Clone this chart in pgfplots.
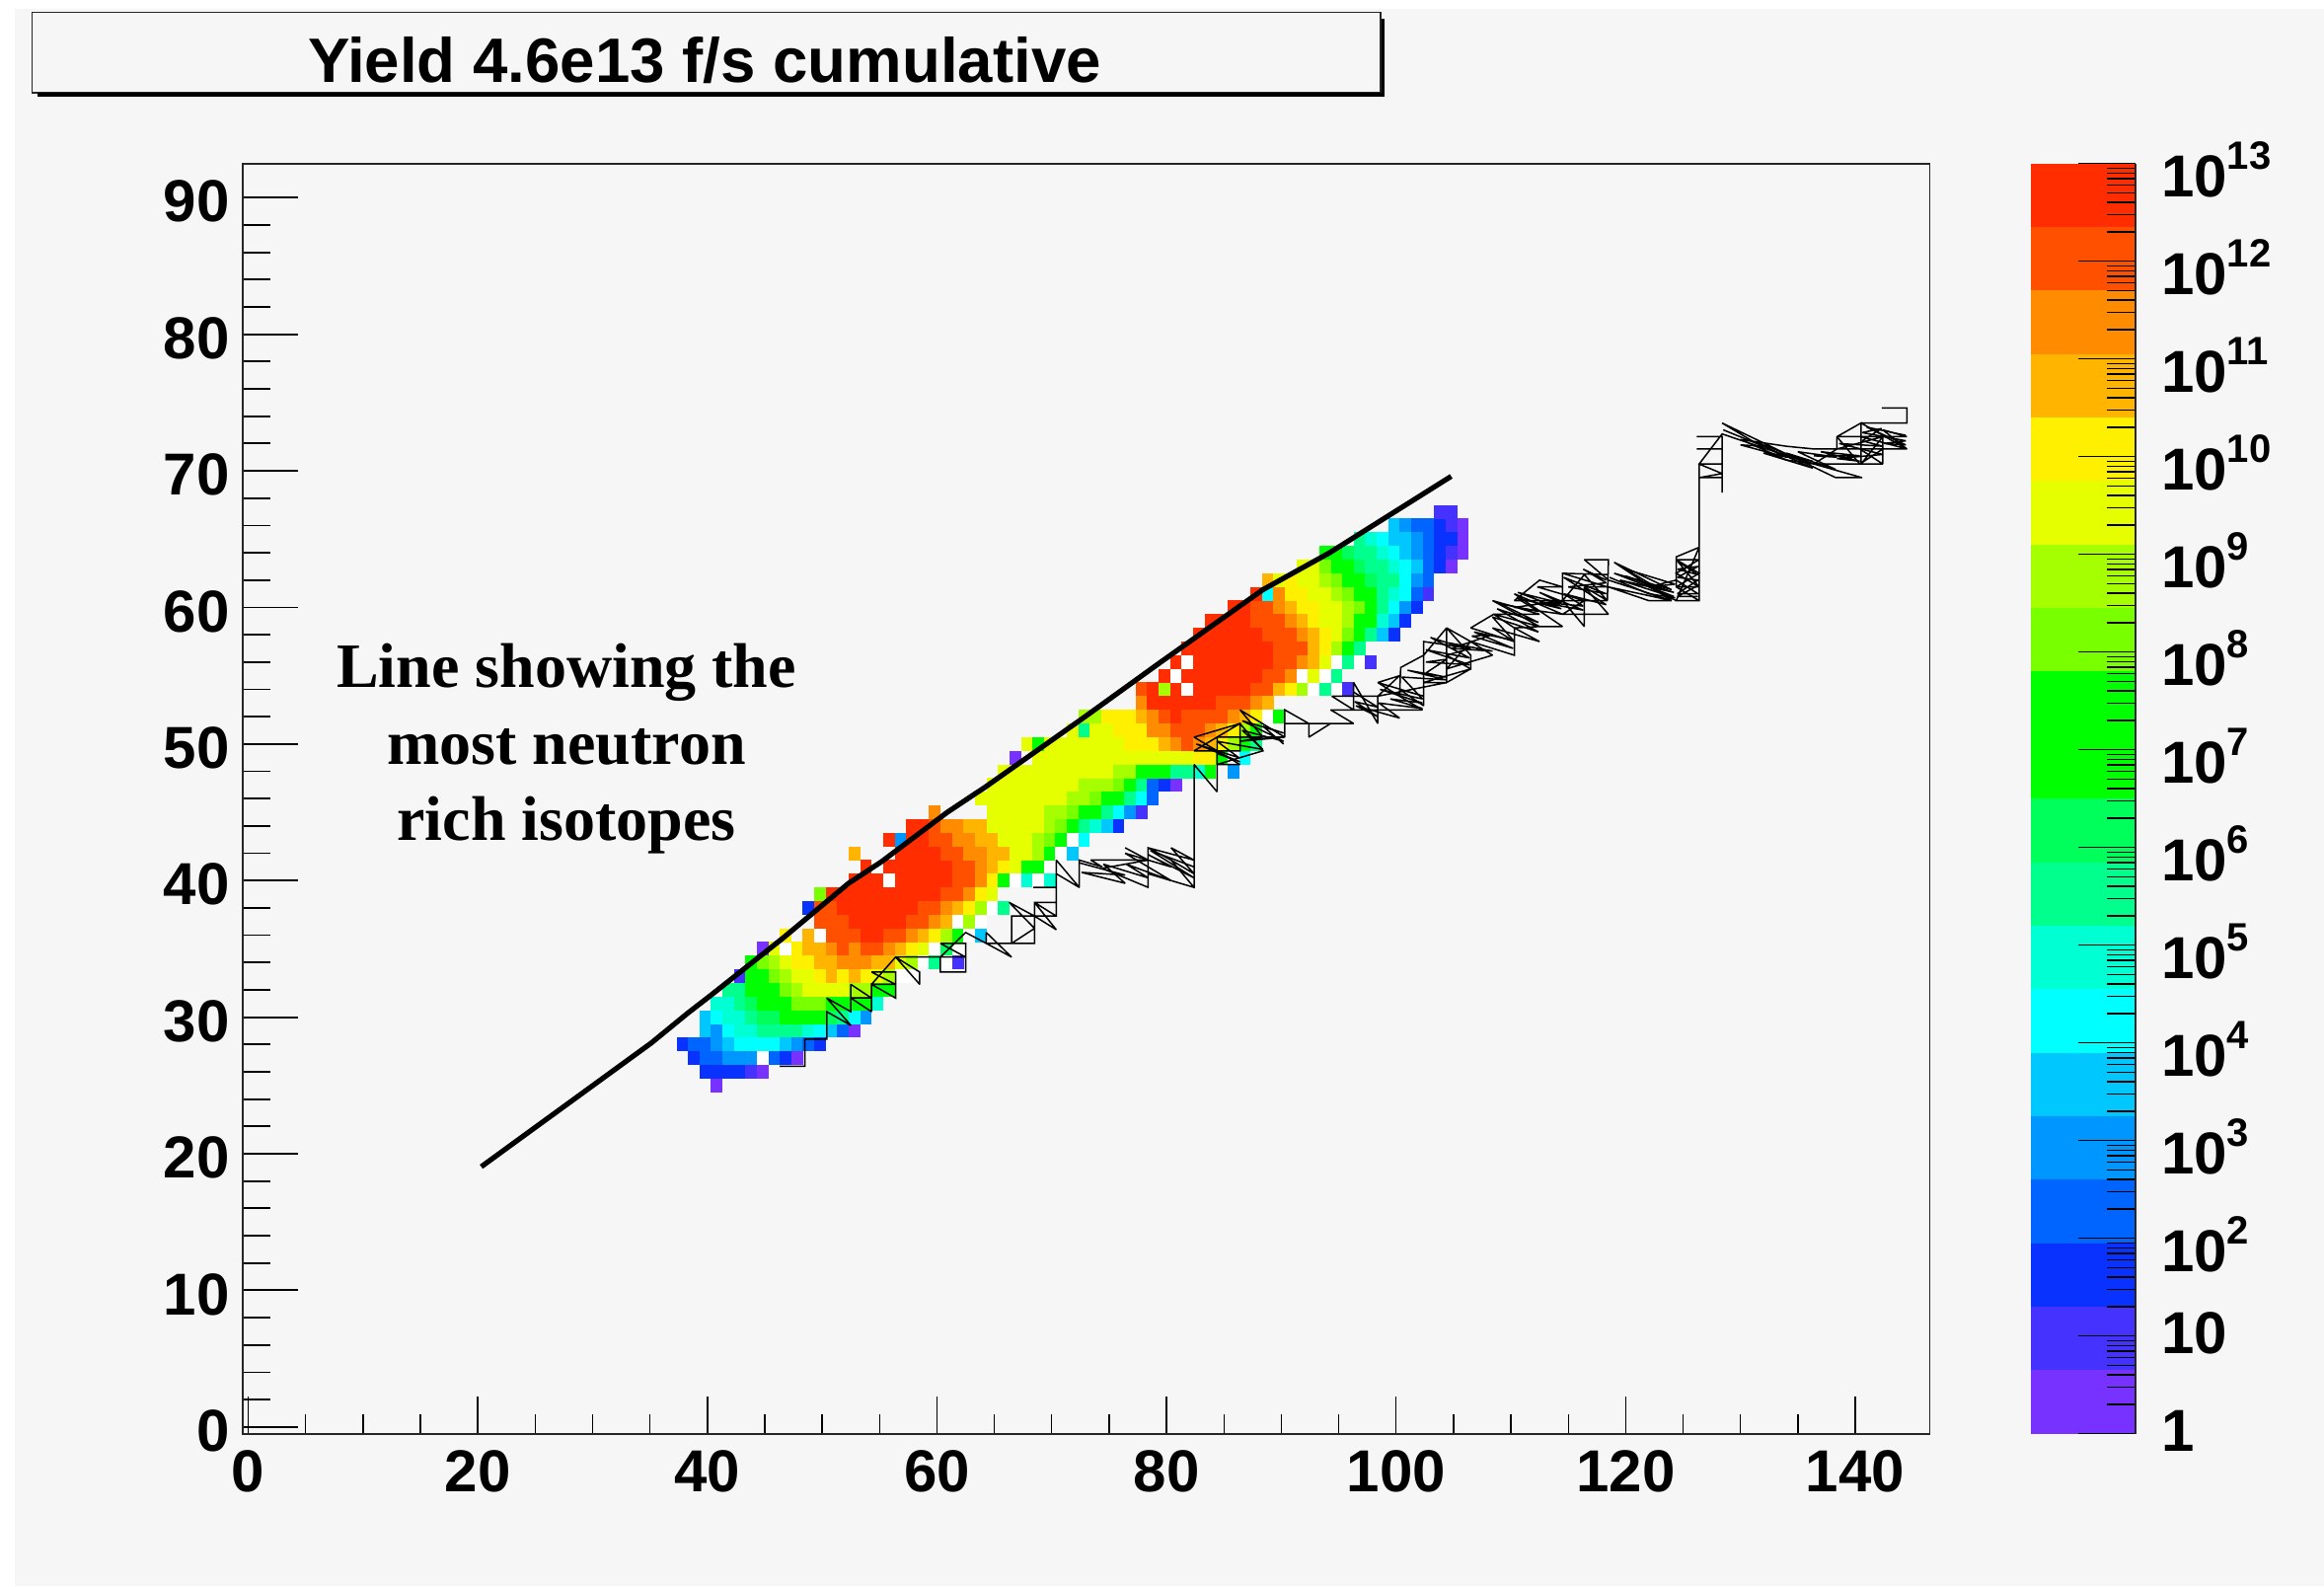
\documentclass[border=0pt]{standalone}
\usepackage{fontspec}
\setmainfont{Liberation Sans}
\newfontfamily\serifbold{Liberation Serif}
\usepackage{pgfplots}
\pgfplotsset{compat=1.18}
\definecolor{bgc}{HTML}{F6F6F6}
\definecolor{b1}{HTML}{7832FF}
\definecolor{b2}{HTML}{4632FF}
\definecolor{b3}{HTML}{0A32FF}
\definecolor{b4}{HTML}{0064FF}
\definecolor{b5}{HTML}{0096FF}
\definecolor{b6}{HTML}{00C8FF}
\definecolor{b7}{HTML}{00FFFF}
\definecolor{b8}{HTML}{00FFD2}
\definecolor{b9}{HTML}{00FF8C}
\definecolor{b10}{HTML}{00FF5A}
\definecolor{b11}{HTML}{00FF00}
\definecolor{b12}{HTML}{00FF00}
\definecolor{b13}{HTML}{78FF00}
\definecolor{b14}{HTML}{A5FF00}
\definecolor{b15}{HTML}{E6FF00}
\definecolor{b16}{HTML}{FFF000}
\definecolor{b17}{HTML}{FFB400}
\definecolor{b18}{HTML}{FF8C00}
\definecolor{b19}{HTML}{FF5000}
\definecolor{b20}{HTML}{FF2D00}
% one histogram bin: 1 px = 0.5pt, bins are 11.63 x 13.84 px
\pgfdeclareplotmark{cell}{%
  \pgfpathrectangle{\pgfpoint{-4.0pt}{-3.5pt}}{\pgfpoint{5.9pt}{7pt}}%
  \pgfusepathqfill}
\newcommand{\band}[3]{\addplot[fill=#1,draw=none] coordinates {(0,#2) (1,#2) (1,#3) (0,#3)} --cycle;}
\newcommand{\lab}{\fontsize{30}{30}\selectfont\bfseries}
\newcommand{\ee}[1]{10\raisebox{14pt}{\fontsize{20}{20}\selectfont #1}}
\begin{document}
\begin{tikzpicture}[x=1pt,y=1pt]
  \path[use as bounding box] (0,0) rectangle (1177.5,803.5);
  \fill[bgc] (7.5,0) rectangle (1177.5,799);
  % title box with its shadow
  \draw[black!85,line width=0.8pt] (16.3,756.5) rectangle (699.5,797.3);
  \draw[black,line width=1.7pt] (700.8,794) -- (700.8,755.4) -- (19,755.4);
  \node[anchor=base,font=\fontsize{31.8}{32}\selectfont\bfseries] at (357,761.8) {Yield 4.6e13 f/s cumulative};

  % main frame with the y ticks and the bins
  \begin{axis}[
      at={(122.85pt,77.15pt)},anchor=south west,
      scale only axis,width=854.95pt,height=643.5pt,
      xmin=-0.5,xmax=146.5,ymin=-0.5,ymax=92.5,
      clip mode=individual,
      xtick=\empty,
      ytick={0,10,...,90},minor y tick num=4,
      tick align=inside,ytick pos=left,
      major tick length=28pt,minor tick length=14pt,
      every tick/.style={black,line width=0.9pt},
      axis line style={black!85,line width=0.8pt},
      /pgf/number format/assume math mode=true,
      yticklabel style={font=\lab,xshift=-3pt,yshift=-2pt},
    ]
    \addplot[scatter,only marks,mark=cell,scatter src=explicit symbolic,
      scatter/classes={
        w={mark=cell,color=white},
        b1={mark=cell,color=b1},b2={mark=cell,color=b2},b3={mark=cell,color=b3},b4={mark=cell,color=b4},
        b5={mark=cell,color=b5},b6={mark=cell,color=b6},b7={mark=cell,color=b7},b8={mark=cell,color=b8},
        b9={mark=cell,color=b9},b10={mark=cell,color=b10},b11={mark=cell,color=b11},b13={mark=cell,color=b13},
        b14={mark=cell,color=b14},b15={mark=cell,color=b15},b16={mark=cell,color=b16},b17={mark=cell,color=b17},
        b18={mark=cell,color=b18},b19={mark=cell,color=b19},b20={mark=cell,color=b20}}]
    coordinates {
      (41,25)[b1]
      (40,26)[b3](41,26)[b3](42,26)[b3](43,26)[b3](44,26)[b2](45,26)[b1]
      (39,27)[b3](40,27)[b4](41,27)[b4](42,27)[b5](43,27)[b5](44,27)[b5](45,27)[w](46,27)[b4](47,27)[b3](48,27)[b1]
      (38,28)[b3](39,28)[b4](40,28)[b4](41,28)[b5](42,28)[b6](43,28)[b7](44,28)[b7](45,28)[b7](46,28)[b7](47,28)[b6](48,28)[b5](49,28)[b4](50,28)[b3]
      (40,29)[b6](41,29)[b5](42,29)[b7](43,29)[b8](44,29)[b8](45,29)[b9](46,29)[b9](47,29)[b9](48,29)[b9](49,29)[b8](50,29)[b7](51,29)[b6](52,29)[b4](53,29)[b1]
      (40,30)[b6](41,30)[b7](42,30)[b8](43,30)[b8](44,30)[b9](45,30)[b10](46,30)[b10](47,30)[b11](48,30)[b11](49,30)[b11](50,30)[b11](51,30)[b10](52,30)[b9](53,30)[b7](54,30)[b5]
      (41,31)[b8](42,31)[b8](43,31)[b9](44,31)[b10](45,31)[b11](46,31)[b11](47,31)[b11](48,31)[b13](49,31)[b13](50,31)[b13](51,31)[b11](52,31)[b11](53,31)[b11](54,31)[b11](55,31)[b8]
      (42,32)[b9](43,32)[b9](44,32)[b11](45,32)[b11](46,32)[b11](47,32)[b13](48,32)[b14](49,32)[b15](50,32)[b15](51,32)[b15](52,32)[b15](53,32)[b14](54,32)[b14](55,32)[b11](56,32)[b11]
      (43,33)[b2](44,33)[b11](45,33)[b11](46,33)[b13](47,33)[b14](48,33)[b15](49,33)[b15](50,33)[b16](51,33)[b17](52,33)[b16](53,33)[b17](54,33)[b16](55,33)[b15](56,33)[b14](57,33)[w](58,33)[w]
      (44,34)[b11](45,34)[b13](46,34)[b14](47,34)[b15](48,34)[b16](49,34)[b16](50,34)[b17](51,34)[b17](52,34)[b18](53,34)[b18](54,34)[b18](55,34)[b17](56,34)[b17](57,34)[b15](58,34)[b14](59,34)[w](60,34)[b9](61,34)[w](62,34)[b2]
      (45,35)[b1](46,35)[b15](47,35)[w](48,35)[b16](49,35)[b17](50,35)[b17](51,35)[b18](52,35)[b19](53,35)[b18](54,35)[b19](55,35)[b19](56,35)[b18](57,35)[b17](58,35)[b16](59,35)[b15](60,35)[w](61,35)[b10](62,35)[w]
      (47,36)[b16](49,36)[b17](50,36)[w](51,36)[b19](52,36)[b19](53,36)[b19](54,36)[b20](55,36)[b20](56,36)[b19](57,36)[b19](58,36)[b18](59,36)[b17](60,36)[b16](61,36)[b14](62,36)[b11](63,36)[w](64,36)[b6]
      (50,37)[b19](51,37)[b19](52,37)[b19](53,37)[b20](54,37)[b20](55,37)[b20](56,37)[b20](57,37)[b20](58,37)[b19](59,37)[b19](60,37)[b18](61,37)[b17](62,37)[w](63,37)[b14](64,37)[w]
      (49,38)[b3](50,38)[b19](51,38)[b19](52,38)[b20](53,38)[b20](54,38)[b20](55,38)[b20](56,38)[b20](57,38)[b20](58,38)[b20](59,38)[b19](60,38)[b19](61,38)[b18](62,38)[b17](63,38)[b16](64,38)[b14](65,38)[w](66,38)[b9]
      (50,39)[b13](51,39)[b20](52,39)[b20](53,39)[b20](54,39)[b20](55,39)[b20](56,39)[b20](57,39)[b20](58,39)[b20](59,39)[b20](60,39)[b20](61,39)[b19](62,39)[b19](63,39)[b18](64,39)[b16](65,39)[b15]
      (53,40)[b20](54,40)[b20](55,40)[b20](56,40)[w](57,40)[b20](58,40)[b20](59,40)[b20](60,40)[b20](61,40)[b20](62,40)[b19](63,40)[b19](64,40)[b18](65,40)[b16](66,40)[b11](67,40)[w](68,40)[b8](69,40)[w](70,40)[b8]
      (54,41)[b20](55,41)[w](56,41)[b20](57,41)[b20](58,41)[b20](59,41)[b20](60,41)[b20](61,41)[b20](62,41)[b19](63,41)[b19](64,41)[b18](65,41)[b17](66,41)[b16](67,41)[b15](68,41)[b11](69,41)[b11](70,41)[w]
      (53,42)[b17](57,42)[b20](58,42)[b20](59,42)[b20](60,42)[b20](61,42)[b19](62,42)[b19](63,42)[b18](64,42)[b18](65,42)[b17](66,42)[b17](67,42)[b15](68,42)[b15](69,42)[b14](70,42)[b11](71,42)[w](72,42)[b6]
      (56,43)[b20](57,43)[b5](58,43)[b20](59,43)[b20](60,43)[b19](61,43)[b19](62,43)[b18](63,43)[b18](64,43)[b17](65,43)[b17](66,43)[b15](67,43)[b15](68,43)[b15](69,43)[b14](70,43)[b13](71,43)[b11](72,43)[w](73,43)[b7]
      (58,44)[b20](59,44)[b20](60,44)[b19](61,44)[b18](62,44)[b18](63,44)[b17](64,44)[b17](65,44)[b15](66,44)[b15](67,44)[b15](68,44)[b15](69,44)[b15](70,44)[b14](71,44)[b13](72,44)[b11](73,44)[b9](74,44)[b8](75,44)[b6](76,44)[b3]
      (60,45)[b18](65,45)[b15](66,45)[b15](67,45)[b15](68,45)[b15](69,45)[b15](70,45)[b14](71,45)[b14](72,45)[b13](73,45)[b11](74,45)[b11](75,45)[b9](76,45)[b7](77,45)[b5](78,45)[b2]
      (64,46)[b15](65,46)[b15](66,46)[b15](67,46)[b15](68,46)[b15](69,46)[b15](70,46)[b15](71,46)[b15](72,46)[b14](73,46)[b14](74,46)[b13](75,46)[b11](76,46)[b11](77,46)[b9](78,46)[b7](79,46)[b4]
      (65,47)[b15](66,47)[b15](67,47)[b15](68,47)[b15](69,47)[b15](70,47)[b15](71,47)[b15](72,47)[b15](73,47)[b14](74,47)[b14](75,47)[b14](76,47)[b13](77,47)[b11](78,47)[b9](79,47)[b4](80,47)[b3](81,47)[b1]
      (66,48)[b15](67,48)[b15](68,48)[b15](69,48)[b15](70,48)[b15](71,48)[b15](72,48)[b15](73,48)[b15](74,48)[b15](75,48)[b15](76,48)[b14](77,48)[b14](78,48)[b11](79,48)[b11](80,48)[b11](81,48)[b9](82,48)[b9](83,48)[b8](84,48)[b11](86,48)[b5]
      (67,49)[b1](69,49)[b15](70,49)[b15](71,49)[b15](72,49)[b15](73,49)[b15](74,49)[b15](75,49)[b15](76,49)[b15](77,49)[b15](78,49)[b15](79,49)[b15](80,49)[b15](81,49)[b15](82,49)[b15](83,49)[b16](84,49)[b16](85,49)[b11](86,49)[w](87,49)[b7]
      (68,50)[b15](69,50)[b11](70,50)[b15](71,50)[b15](72,50)[b15](73,50)[b15](74,50)[b15](75,50)[b15](76,50)[b15](77,50)[b16](78,50)[b16](79,50)[b16](80,50)[b17](81,50)[b18](82,50)[b19](83,50)[b18](84,50)[b17](85,50)[b16](86,50)[b14](87,50)[b11](88,50)[b9]
      (72,51)[b15](73,51)[b9](74,51)[b15](75,51)[b15](76,51)[b16](77,51)[b16](78,51)[b16](79,51)[b18](80,51)[b18](81,51)[b19](82,51)[b19](83,51)[b19](84,51)[b18](85,51)[b17](86,51)[b16](87,51)[b14](88,51)[b11](89,51)[w]
      (73,52)[b14](74,52)[b14](75,52)[b16](76,52)[b16](77,52)[b16](78,52)[b17](79,52)[b18](80,52)[b19](81,52)[b20](82,52)[b19](83,52)[b19](84,52)[b19](85,52)[b19](86,52)[b18](87,52)[b17](88,52)[b16](89,52)[w](90,52)[b11]
      (78,53)[b18](79,53)[b20](80,53)[b20](81,53)[b20](82,53)[b20](83,53)[b20](84,53)[b20](85,53)[b19](86,53)[b19](87,53)[b19](88,53)[b18](89,53)[b17]
      (78,54)[b19](79,54)[b20](80,54)[b14](81,54)[b20](82,54)[w](83,54)[b20](84,54)[b20](85,54)[b20](86,54)[b20](87,54)[b20](88,54)[b19](89,54)[b19](90,54)[b17](91,54)[b16](92,54)[b14](93,54)[w](94,54)[b9](95,54)[w](96,54)[b2]
      (80,55)[b20](81,55)[w](82,55)[b20](83,55)[b20](84,55)[b20](85,55)[b20](86,55)[b20](87,55)[b20](88,55)[b20](89,55)[b19](90,55)[b19](91,55)[b18](92,55)[w](93,55)[b15](94,55)[w](95,55)[b9]
      (81,56)[b20](82,56)[w](83,56)[b20](84,56)[b20](85,56)[b20](86,56)[b20](87,56)[b20](88,56)[b20](89,56)[b20](90,56)[b19](91,56)[b19](92,56)[b18](93,56)[b17](94,56)[b15](95,56)[w](96,56)[b9](97,56)[w](98,56)[b2]
      (82,57)[b20](83,57)[b20](84,57)[b20](85,57)[b20](86,57)[b20](87,57)[b20](88,57)[b20](89,57)[b20](90,57)[b19](91,57)[b19](92,57)[b19](93,57)[b17](94,57)[b16](95,57)[b14](96,57)[b11](97,57)[b9]
      (83,58)[b20](84,58)[b20](85,58)[b20](86,58)[b20](87,58)[b20](88,58)[b20](89,58)[b19](90,58)[b19](91,58)[b19](92,58)[b18](93,58)[b17](94,58)[b16](95,58)[b15](96,58)[b13](97,58)[b11](98,58)[b9](99,58)[b6](100,58)[b3]
      (84,59)[b20](85,59)[b20](86,59)[b20](87,59)[b20](88,59)[b19](89,59)[b19](90,59)[b19](91,59)[b18](92,59)[b17](93,59)[b16](94,59)[b15](95,59)[b15](96,59)[b14](97,59)[b11](98,59)[b11](99,59)[b8](100,59)[b6](101,59)[b3]
      (86,60)[b20](87,60)[b20](88,60)[b19](89,60)[b19](90,60)[b18](91,60)[b17](92,60)[b16](93,60)[b16](94,60)[b15](95,60)[b15](96,60)[b14](97,60)[b13](98,60)[b11](99,60)[b9](100,60)[b7](101,60)[b5](102,60)[b3]
      (88,61)[b20](89,61)[b7](90,61)[b18](91,61)[b16](92,61)[b16](93,61)[b15](94,61)[b15](95,61)[b14](96,61)[b13](97,61)[b11](98,61)[b11](99,61)[b9](100,61)[b8](101,61)[b7](102,61)[b4](103,61)[b2]
      (89,62)[b17](90,62)[b15](91,62)[b16](92,62)[b15](93,62)[b15](94,62)[b14](95,62)[b13](96,62)[b11](97,62)[b11](98,62)[b10](99,62)[b9](100,62)[b9](101,62)[b7](102,62)[b5](103,62)[b4]
      (92,63)[b15](93,63)[b15](94,63)[b13](95,63)[b11](96,63)[b11](97,63)[b10](98,63)[b9](99,63)[b9](100,63)[b8](101,63)[b7](102,63)[b6](103,63)[b4](104,63)[b3](105,63)[b1]
      (94,64)[b11](95,64)[b11](96,64)[b10](97,64)[b9](98,64)[b9](99,64)[b8](100,64)[b7](101,64)[b6](102,64)[b5](103,64)[b4](104,64)[b3](105,64)[b2](106,64)[b1]
      (97,65)[b9](98,65)[b8](99,65)[b7](100,65)[b6](101,65)[b6](102,65)[b5](103,65)[b4](104,65)[b3](105,65)[b3](106,65)[b1]
      (100,66)[b6](101,66)[b5](102,66)[b4](103,66)[b4](104,66)[b3](105,66)[b2](106,66)[b1]
      (104,67)[b2](105,67)[b2]
    };
    % the zigzag of known isotopes
    \addplot[black,line width=0.75pt,sharp plot,miter limit=2] coordinates {
      (46.3,26.4)(48.5,26.4)(48.5,28.4)(50.4,28.4)(50.4,30.4)(52.5,29.4)(50.4,31.4)(52.5,30.4)(52.5,31.4)(54.3,30.4)(54.3,31.4)(52.5,31.4)
      (52.5,32.4)(54.3,31.4)(54.3,32.4)(56.4,31.4)(56.4,33.3)(54.3,33.3)(56.4,32.4)(54.3,32.4)(56.4,34.4)(58.5,32.4)(58.5,33.3)(56.4,34.4)
      (58.5,34.4)(60.3,34.4)(60.3,33.3)(62.5,33.3)(62.5,35.4)(60.3,35.4)(62.5,34.4)(60.3,34.4)(62.5,36.2)(64.3,35.4)(66.5,34.4)(64.3,36.2)
      (64.3,35.4)(68.5,35.4)(68.5,36.5)(66.3,38.4)(68.5,37.4)(66.5,37.4)(66.5,35.4)(68.5,36.5)(68.5,38.4)(70.4,38.4)(70.4,37.4)(68.5,38.4)
      (70.4,36.4)(68.5,37.4)(70.4,37.4)(70.4,39.5)(68.4,39.5)(70.4,39.5)(70.4,41.5)(72.4,39.5)(70.4,40.5)(72.4,39.5)(72.4,41.5)
      (74.4,41)(73.4,41.5)(78.4,41.5)(76.4,42.4)(78.4,41.5)(74.4,40.9)(78.4,39.5)(78.4,42.4)(80.4,41.5)(78.4,42.4)(82.4,41.5)(80.4,42.4)
      (82.4,40.5)(80.4,41.5)(82.4,39.5)(78.4,40.5)(82.4,39.5)(82.4,48.5)(84.4,46.5)(84.4,50.5)(82.4,49.5)(86.4,49.5)(86.4,51.5)(82.4,50.5)
      (86.4,48.5)(84.4,48.5)(88.4,49.5)(86.4,51.5)(84.4,50.5)(88.4,50.5)(86.4,50.2)(90.3,50.5)(88.4,50.5)(86.4,52.5)(90.3,50.5)(90.3,52.5)
      (92.4,51.5)(92.4,50.5)(94.3,51.5)(90.3,51.5)(96.3,51.5)(94.3,52.5)(96.3,52.5)(96.3,54.5)(98.4,51.5)(98.4,53.5)(94.4,53.5)(96.3,52.5)
      (102.3,52.5)(100.3,53.5)(98.4,54.5)(102.4,53.5)(100.3,54)(102.4,52.8)(102.4,56.5)(100.4,55.6)(100.3,53.5)(98.4,54.5)(100.3,55)(98.4,53.5)
      (104.4,54.5)(102.4,54.5)(106.5,55.5)(104.4,54.5)(104.4,58.5)(102.4,56.5)(102.4,57.5)(106.5,57)(104.4,56.5)(106.5,55.5)(106.5,56.5)
      (104.4,58.5)(106.5,57.5)(104.4,55.5)(108.4,56.5)(106.5,57.5)(110.3,56.5)(110.3,58.5)(108.5,59.5)(106.5,58.5)(110.3,57.5)(108.4,58.5)
      (112.5,57.5)(110.3,58.5)(112.5,58.6)(108.4,60.5)(112.5,59.5)(108.5,59.5)(112.5,58.6)(114.5,58.6)(110.3,61)(114.5,59.5)(110.3,60)
      (114.5,60.5)(110.3,60.5)(112.5,62)(114.5,61.5)(112.3,61.5)(116.4,60.5)(114.5,59.5)(118.5,59.5)(116.4,61.5)(116.4,58.6)(114.5,60.5)
      (118.4,60.5)(116.4,61.5)(118.4,61.5)(114.5,62.5)(118.4,62.4)(114.5,62.5)(114.5,60.5)(116.4,62.4)(118.4,60.5)(118.5,63.5)(116.4,63.5)
      (118.5,62)(124,60.5)(122,60.5)(118.5,61.5)(124,60.5)(119,63.3)(124,61.3)(119,62.5)(124.2,60.8)(122,61.5)(124.4,60.5)(126.4,60.5)
      (124.4,61.5)(126.4,61.5)(124.4,62.5)(126.4,63.5)(124.4,63.5)(126.4,62.5)(124.4,61.5)(124.4,63.7)(126.4,64.4)(124.4,60.5)
      (126.4,60.5)(126.4,70.5)(128.4,70.5)(128.4,68.4)(128.4,72.5)(126.2,72.5)(128.4,72.5)(128.4,71.6)(126.2,71.6)(128.4,71.6)(128.4,69.5)
      (126.4,69.5)(128.4,69.8)(126.4,70.5)(128.4,72.7)(133,71.4)(136.4,70.5)(131,72.2)(128.4,73.5)(138.3,69.5)(140.6,69.5)(136.4,70.5)
      (134,70.8)(130,72.3)(134,71.8)(136.4,71.6)(138.4,71.6)(136.4,70.5)(142.4,70.5)(140.4,71.6)(136.4,71.6)(142.4,71.6)(140.4,70.5)(138.4,72.5)
      (138.4,71.6)(142.4,72.5)(138.4,72.5)(140.5,73.5)(140.5,70.5)(142.4,72.5)(142.4,70.5)(142.4,71.6)(144.5,71.6)(142.4,73)(144.5,72.5)
      (140.5,72.5)(144.5,71.6)(140.5,73.5)(144.5,73.5)(144.5,74.6)(142.3,74.6)
    };
    % denser hatching where the zigzag folds over itself
    \addplot[black,line width=0.75pt,sharp plot,miter limit=2] coordinates {
      (72.4,41.3)(76.4,40.4)(72.6,40.6)(76.4,39.8)(74.5,41.2)(78.4,40.2)(76.5,41.2)(80.4,40)(76.4,42)(80.4,41)(78.4,41.9)(82.4,40.2)(78.6,42.2)(82.4,41)
    };
    \addplot[black,line width=0.75pt,sharp plot,miter limit=2] coordinates {
      (84.4,49.3)(86.4,48.7)(82.6,50)(86.3,49)(84.4,50.2)(88.4,49.6)(86.6,51)(90.2,50.2)(86.6,51.7)(90.2,50.8)(88.4,51.3)(90.2,50)
    };
    \addplot[black,line width=0.75pt,sharp plot,miter limit=2] coordinates {
      (96.3,53.8)(98.4,52.7)(96.4,53.1)(98.4,52)(96.5,52.8)(100.3,51.9)(98.5,53)(102.3,52.6)(99.5,53.3)(102.3,53)(98.6,54)(102.3,53.3)
      (100.5,54.9)(104.3,54.7)(101,55.4)(104.3,54.9)(102.6,55.2)(104.4,56.2)(102.6,56)(106.4,55.8)(102.6,56.9)(106.4,56.3)(103,57.8)(106.4,56.9)
      (104.6,57.4)(108.4,56.8)(104.8,57)(108.4,58)(106.6,57.9)(110.2,57)(106.8,58.2)(110.2,57.6)(108.4,59.3)(112.4,58.2)(108.8,59.9)(112.4,58.9)(109,60.3)(112.4,59.7)
      (110.5,60.7)(114.4,59.9)(110.6,61.1)(114.4,60.3)(112.5,61.1)(116.3,59.8)(112.5,60.4)(116.3,60.1)(114.6,61)(118.3,60.2)(114.6,62.2)(118.3,61)(115,61.5)(118.3,61.8)(116.3,62.8)(118.3,62)
    };
    \addplot[black,line width=0.75pt,sharp plot,miter limit=2] coordinates {
      (118.6,62.2)(122,61)(124.3,60.7)(119.5,62)(124.2,61.1)(120,62.3)(123,61.3)(120,62.8)(124.3,61.7)(122,61.5)(124.4,62)
      (126.3,61)(124.5,61)(126.3,62)(124.5,62.2)(126.3,63)(124.5,62.8)(126.3,62.4)(124.5,63.4)(126.3,61.6)(124.5,60.8)(126.3,60.8)
    };
    \addplot[black,line width=0.75pt,sharp plot,miter limit=2] coordinates {
      (128.5,73)(132,71.8)(130,71.9)(134,71)(131.5,72)(136.3,70.2)(132,71.3)(136.3,70.7)(134,71.3)(138.3,70.1)(135,71.4)(138.4,71)
      (136.4,71.1)(140.4,71.1)(137,71.4)(140.4,70.7)(138.4,70.9)(142.4,71.2)(138.6,72)(142.4,71.8)(140.6,72.2)(142.3,73.1)(140.6,72.8)(144.4,72.2)(142.5,72)(144.4,71.9)(141,73.2)(144.4,72.6)
    };
    % line showing the most neutron rich isotopes
    \addplot[black,line width=2.6pt] coordinates {
      (20.3,19.05)(35.1,28.1)(38.3,30.3)(40.3,31.6)(46.6,35.8)(52.3,39.8)(55.2,41.4)(60.9,45)(64.3,46.9)(72.9,52)(79.5,56)(88.4,61.3)(94.2,64)(104.8,69.6)
    };
  \end{axis}

  % x ticks are shorter than the y ticks, so they get their own axis
  \begin{axis}[
      at={(122.85pt,77.15pt)},anchor=south west,
      scale only axis,width=854.95pt,height=643.5pt,
      xmin=-0.5,xmax=146.5,ymin=-0.5,ymax=92.5,
      axis y line=none,axis x line=bottom,x axis line style={-,black!85,line width=0.8pt},
      xtick={0,20,...,140},minor x tick num=3,
      xtick align=inside,
      major tick length=19pt,minor tick length=10pt,
      every tick/.style={black,line width=0.7pt},
      /pgf/number format/assume math mode=true,
      xticklabel style={font=\lab,yshift=-5pt},
    ]
    \addplot[draw=none] coordinates {(0,0)};
  \end{axis}

  % colour scale
  \begin{axis}[
      at={(1028.85pt,77.15pt)},anchor=south west,
      scale only axis,width=53.15pt,height=643.5pt,
      xmin=0,xmax=1,ymin=1,ymax=1e13,ymode=log,
      axis x line=none,axis y line=right,y axis line style={-,black!85,line width=0.8pt},
      xtick=\empty,
      ytick={1,10,100,1e3,1e4,1e5,1e6,1e7,1e8,1e9,1e10,1e11,1e12,1e13},
      minor ytick={2,3,4,5,6,7,8,9,20,30,40,50,60,70,80,90,200,300,400,500,600,700,800,900,
        2e3,3e3,4e3,5e3,6e3,7e3,8e3,9e3,2e4,3e4,4e4,5e4,6e4,7e4,8e4,9e4,2e5,3e5,4e5,5e5,6e5,7e5,8e5,9e5,
        2e6,3e6,4e6,5e6,6e6,7e6,8e6,9e6,2e7,3e7,4e7,5e7,6e7,7e7,8e7,9e7,2e8,3e8,4e8,5e8,6e8,7e8,8e8,9e8,
        2e9,3e9,4e9,5e9,6e9,7e9,8e9,9e9,2e10,3e10,4e10,5e10,6e10,7e10,8e10,9e10,
        2e11,3e11,4e11,5e11,6e11,7e11,8e11,9e11,2e12,3e12,4e12,5e12,6e12,7e12,8e12,9e12},
      yticklabels={\raisebox{8.3pt}{1},\raisebox{8.3pt}{10},\ee{2},\ee{3},\ee{4},\ee{5},\ee{6},\ee{7},\ee{8},\ee{9},\ee{10},\ee{11},\ee{12},\ee{13}},
      tick align=inside,
      major tick length=29pt,minor tick length=14.5pt,
      every tick/.style={black,line width=0.7pt},
      axis on top,
      yticklabel style={font=\lab,anchor=base west,xshift=9.5pt,yshift=-17pt},
    ]
    \band{b1}{1}{4.467}
    \band{b2}{4.467}{19.95}
    \band{b3}{19.95}{89.13}
    \band{b4}{89.13}{398.1}
    \band{b5}{398.1}{1778}
    \band{b6}{1778}{7943}
    \band{b7}{7943}{35481}
    \band{b8}{35481}{158489}
    \band{b9}{158489}{707946}
    \band{b10}{707946}{3162278}
    \band{b11}{3162278}{1.413e7}
    \band{b12}{1.413e7}{6.31e7}
    \band{b13}{6.31e7}{2.818e8}
    \band{b14}{2.818e8}{1.259e9}
    \band{b15}{1.259e9}{5.623e9}
    \band{b16}{5.623e9}{2.512e10}
    \band{b17}{2.512e10}{1.122e11}
    \band{b18}{1.122e11}{5.012e11}
    \band{b19}{5.012e11}{2.239e12}
    \band{b20}{2.239e12}{1e13}
  \end{axis}

  \node[anchor=base,font=\fontsize{32}{33}\selectfont\serifbold\bfseries] at (287,455) {Line showing the};
  \node[anchor=base,font=\fontsize{32}{33}\selectfont\serifbold\bfseries] at (287,416) {most neutron};
  \node[anchor=base,font=\fontsize{32}{33}\selectfont\serifbold\bfseries] at (287,377.5) {rich isotopes};
\end{tikzpicture}
\end{document}
